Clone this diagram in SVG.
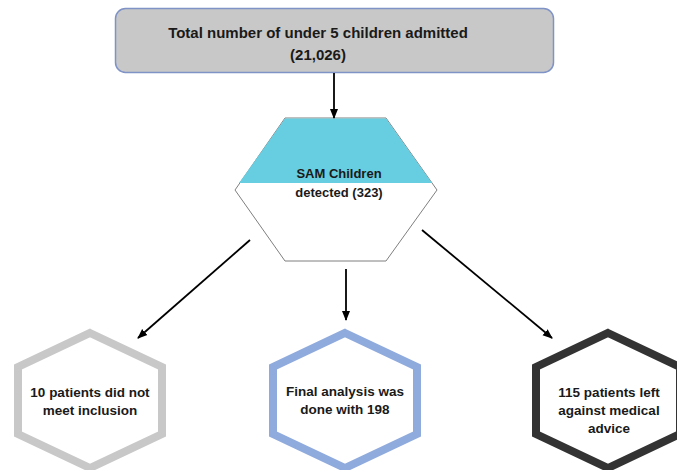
<svg xmlns="http://www.w3.org/2000/svg" width="677" height="470" viewBox="0 0 677 470">
<style>
text{font-family:"Liberation Sans",Arial,sans-serif;font-weight:bold;fill:#1a1a1a;text-anchor:middle}
.conn{stroke:#000;stroke-width:1.8;fill:none;marker-end:url(#ah)}
.hex{fill:#fff;stroke-width:8;stroke-linejoin:miter}
</style>
<defs>
<marker id="ah" markerUnits="userSpaceOnUse" markerWidth="10" markerHeight="10" viewBox="0 0 10 10" refX="9" refY="5" orient="auto">
<path d="M0,1 L10,5 L0,9 z" fill="#000"/>
</marker>
</defs>
<rect width="677" height="470" fill="#fff"/>
<g id="node-total">
<rect x="115.5" y="8.5" width="438" height="64" rx="10" ry="10" fill="#C8C8C8" stroke="#7F93C7" stroke-width="1.5"/>
<text x="318" y="38" font-size="15">Total number of under 5 children admitted</text>
<text x="318" y="60" font-size="15">(21,026)</text>
</g>
<g id="node-sam">
<polygon points="285,118 386,118 437,190 386,261 285,261 235,190" fill="#fff" stroke="#7F7F7F" stroke-width="1"/>
<polygon points="285,118.5 386,118.5 432,183 239,183" fill="#67CDE0"/>
<text x="339" y="178" font-size="13">SAM Children</text>
<text x="339" y="197" font-size="13">detected (323)</text>
</g>
<g id="node-excluded">
<polygon class="hex" stroke="#C8C8C8" points="90,333 162,367 162,434 90,468 18,434 18,367"/>
<text x="90" y="397" font-size="13.5">10 patients did not</text>
<text x="90" y="415" font-size="13.5">meet inclusion</text>
</g>
<g id="node-final">
<polygon class="hex" stroke="#8FAADC" points="345,333 417,367 417,434 345,468 273,434 273,367"/>
<text x="345" y="396" font-size="13.5">Final analysis was</text>
<text x="345" y="414" font-size="13.5">done with 198</text>
</g>
<g id="node-lama">
<polygon class="hex" stroke="#333333" points="608,333 680,367 680,434 608,468 536,434 536,367"/>
<text x="609" y="397" font-size="13.5">115 patients left</text>
<text x="609" y="415" font-size="13.5">against medical</text>
<text x="609" y="433" font-size="13.5">advice</text>
</g>
<g id="connectors">
<line class="conn" x1="334" y1="73" x2="334" y2="118"/>
<line class="conn" x1="250" y1="240" x2="138" y2="338"/>
<line class="conn" x1="346" y1="269" x2="346" y2="320"/>
<line class="conn" x1="422" y1="230" x2="552" y2="338"/>
</g>
</svg>
